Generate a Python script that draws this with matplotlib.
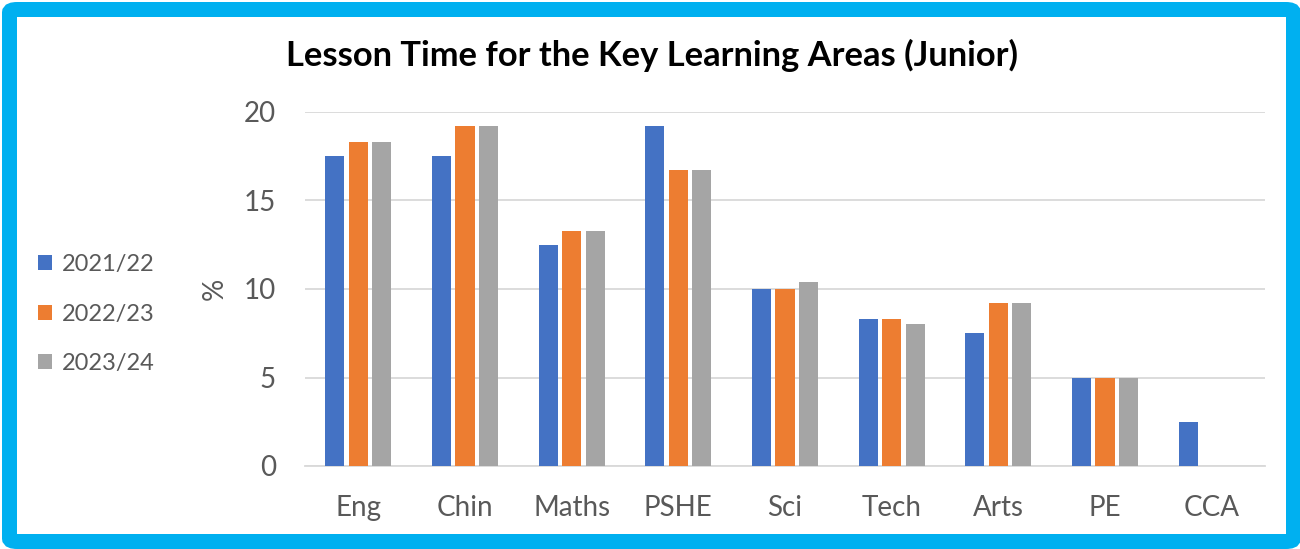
import matplotlib
matplotlib.use("Agg")
import matplotlib.pyplot as plt
import numpy as np
from matplotlib.patches import FancyBboxPatch, Patch

categories = ["Eng", "Chin", "Maths", "PSHE", "Sci", "Tech", "Arts", "PE", "CCA"]
series_names = ["2021/22", "2022/23", "2023/24"]
y2122 = [17.5, 17.5, 12.5, 19.2, 10.0, 8.3, 7.5, 5.0, 2.5]
y2223 = [18.3, 19.2, 13.3, 16.7, 10.0, 8.3, 9.2, 5.0, 0.0]
y2324 = [18.3, 19.2, 13.3, 16.7, 10.4, 8.0, 9.2, 5.0, 0.0]
yticks = [0, 5, 10, 15, 20]
title = "Lesson Time for the Key Learning Areas (Junior)"
ylabel = "%"

colors = ["#4472C4", "#ED7D31", "#A5A5A5"]
text_color = "#595959"
plt.rcParams['font.family'] = ['Lato', 'DejaVu Sans']

W, H = 1300, 549
fig = plt.figure(figsize=(W/100, H/100), dpi=100)
fig.patch.set_facecolor("white")

# border
def px(x, y):
    return x / W, 1 - y / H
x0, y1 = px(9.5, 9.5)
x1, y0 = px(1293.5, 541.5)
border = FancyBboxPatch((x0, y0), x1 - x0, y1 - y0,
                        boxstyle="round,pad=0,rounding_size=0.006",
                        transform=fig.transFigure, facecolor="none",
                        edgecolor="#00B0F0", linewidth=15*0.72, zorder=-5)
fig.patches.append(border)

ax = fig.add_axes([305/W, 1-466/H, (1265-305)/W, (466-112)/H])
ax.set_facecolor("none")
x = np.arange(len(categories))
bw = 0.18
off = 0.22
for i, (vals, name) in enumerate(zip([y2122, y2223, y2324], series_names)):
    ax.bar(x + (i - 1) * off, vals, width=bw, color=colors[i], label=name, zorder=3)

ax.set_xlim(-0.5, len(categories) - 0.5)
ax.set_ylim(0, 20)
ax.set_yticks(yticks)
ax.set_xticks(x)
ax.set_xticklabels(categories)
ax.tick_params(axis='y', length=0, pad=21, labelsize=20, labelcolor=text_color)
ax.tick_params(axis='x', length=0, pad=21, labelsize=20, labelcolor=text_color)
ax.grid(axis='y', color="#D9D9D9", linewidth=1.3, zorder=0)
ax.set_axisbelow(True)
for s in ["top", "right", "left"]:
    ax.spines[s].set_visible(False)
ax.spines["bottom"].set_color("#D9D9D9")
ax.spines["bottom"].set_linewidth(1.3)

fig.text(215/W, 1-289/H, ylabel, rotation=90, ha='center', va='center',
         fontsize=20, color=text_color)
fig.text(652/W, 1-55/H, title, ha='center', va='center', fontsize=24.8,
         fontweight='bold', color='black')

handles = [Patch(facecolor=c, edgecolor='none') for c in colors]
leg = fig.legend(handles, series_names, loc='center left',
                 bbox_to_anchor=(17/W, 1-314/H), frameon=False,
                 fontsize=17, handlelength=0.6, handleheight=0.6,
                 handletextpad=0.4, labelspacing=1.2)
for t in leg.get_texts():
    t.set_color(text_color)

fig.savefig("out.png", dpi=100)
